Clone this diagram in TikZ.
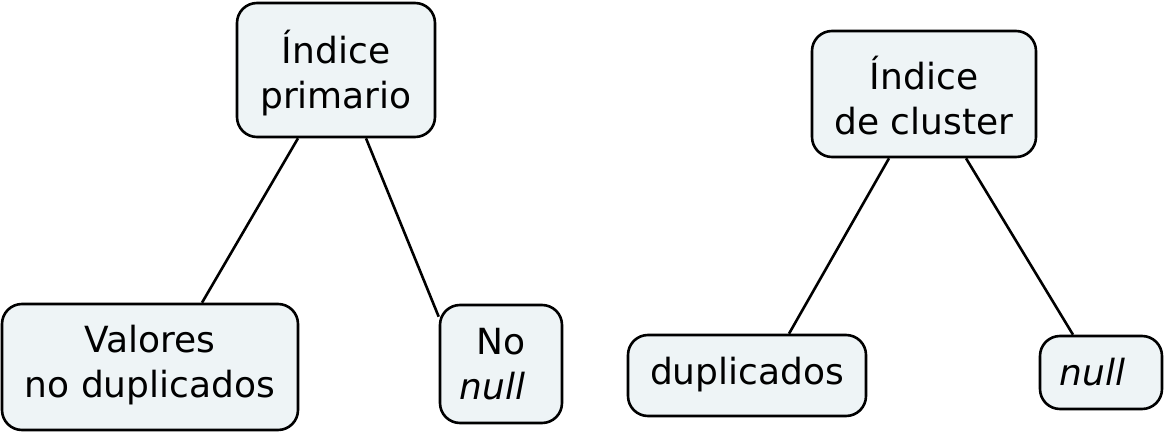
\documentclass[tikz,border=0pt]{standalone}
\usepackage{fontspec}
\setmainfont{DejaVu Sans}
\usetikzlibrary{calc}
\definecolor{boxfill}{HTML}{EEF4F6}
\tikzset{
  cbox/.style={draw=black, line width=2.6pt, fill=boxfill, rounded corners=20pt,
    inner sep=0pt, align=center, font=\fontsize{36}{45}\selectfont},
  link/.style={draw=black, line width=2.6pt}
}
\newcommand{\trail}{\hbox to 17pt{}}
\begin{document}
\begin{tikzpicture}[x=1pt,y=-1pt]
\useasboundingbox (0,0) rectangle (1170,436);
\node[cbox, minimum width=198pt, minimum height=134pt] (prim) at (336,70) {};
\node[cbox, minimum width=296pt, minimum height=126pt] (val) at (150,367) {};
\node[cbox, minimum width=122pt, minimum height=118pt] (nonull) at (501,364) {};
\node[cbox, minimum width=224pt, minimum height=126pt] (clu) at (924,94) {};
\node[cbox, minimum width=238pt, minimum height=81pt] (dup) at (747,375.5) {};
\node[cbox, minimum width=122pt, minimum height=73pt] (nul) at (1101,372.5) {};
\node[cbox, draw=none, fill=none] (primt) at ($(prim.center)+(0,3)$) {Índice\\primario};
\node[cbox, draw=none, fill=none] (valt) at ($(val.center)+(0,-2)$) {Valores\\no duplicados};
\node[cbox, draw=none, fill=none] (nonullt) at ($(nonull.center)+(0,0)$) {No\\\textit{null}\trail};
\node[cbox, draw=none, fill=none] (clut) at ($(clu.center)+(0,2)$) {Índice\\de cluster};
\node[cbox, draw=none, fill=none] (dupt) at ($(dup.center)+(0,-1)$) {duplicados};
\node[cbox, draw=none, fill=none] (nult) at ($(nul.center)+(0,0)$) {\textit{null}\trail};
\draw[link] ($(prim.south)+(-38,0)$) -- ($(val.north)+(52,0)$);
\draw[link] ($(prim.south)+(30,0)$) -- ($(nonull.north west)+(0,13)$);
\draw[link] ($(clu.south)+(-35,0)$) -- ($(dup.north)+(42,0)$);
\draw[link] ($(clu.south)+(42,0)$) -- ($(nul.north)+(-28,0)$);
\end{tikzpicture}
\end{document}
